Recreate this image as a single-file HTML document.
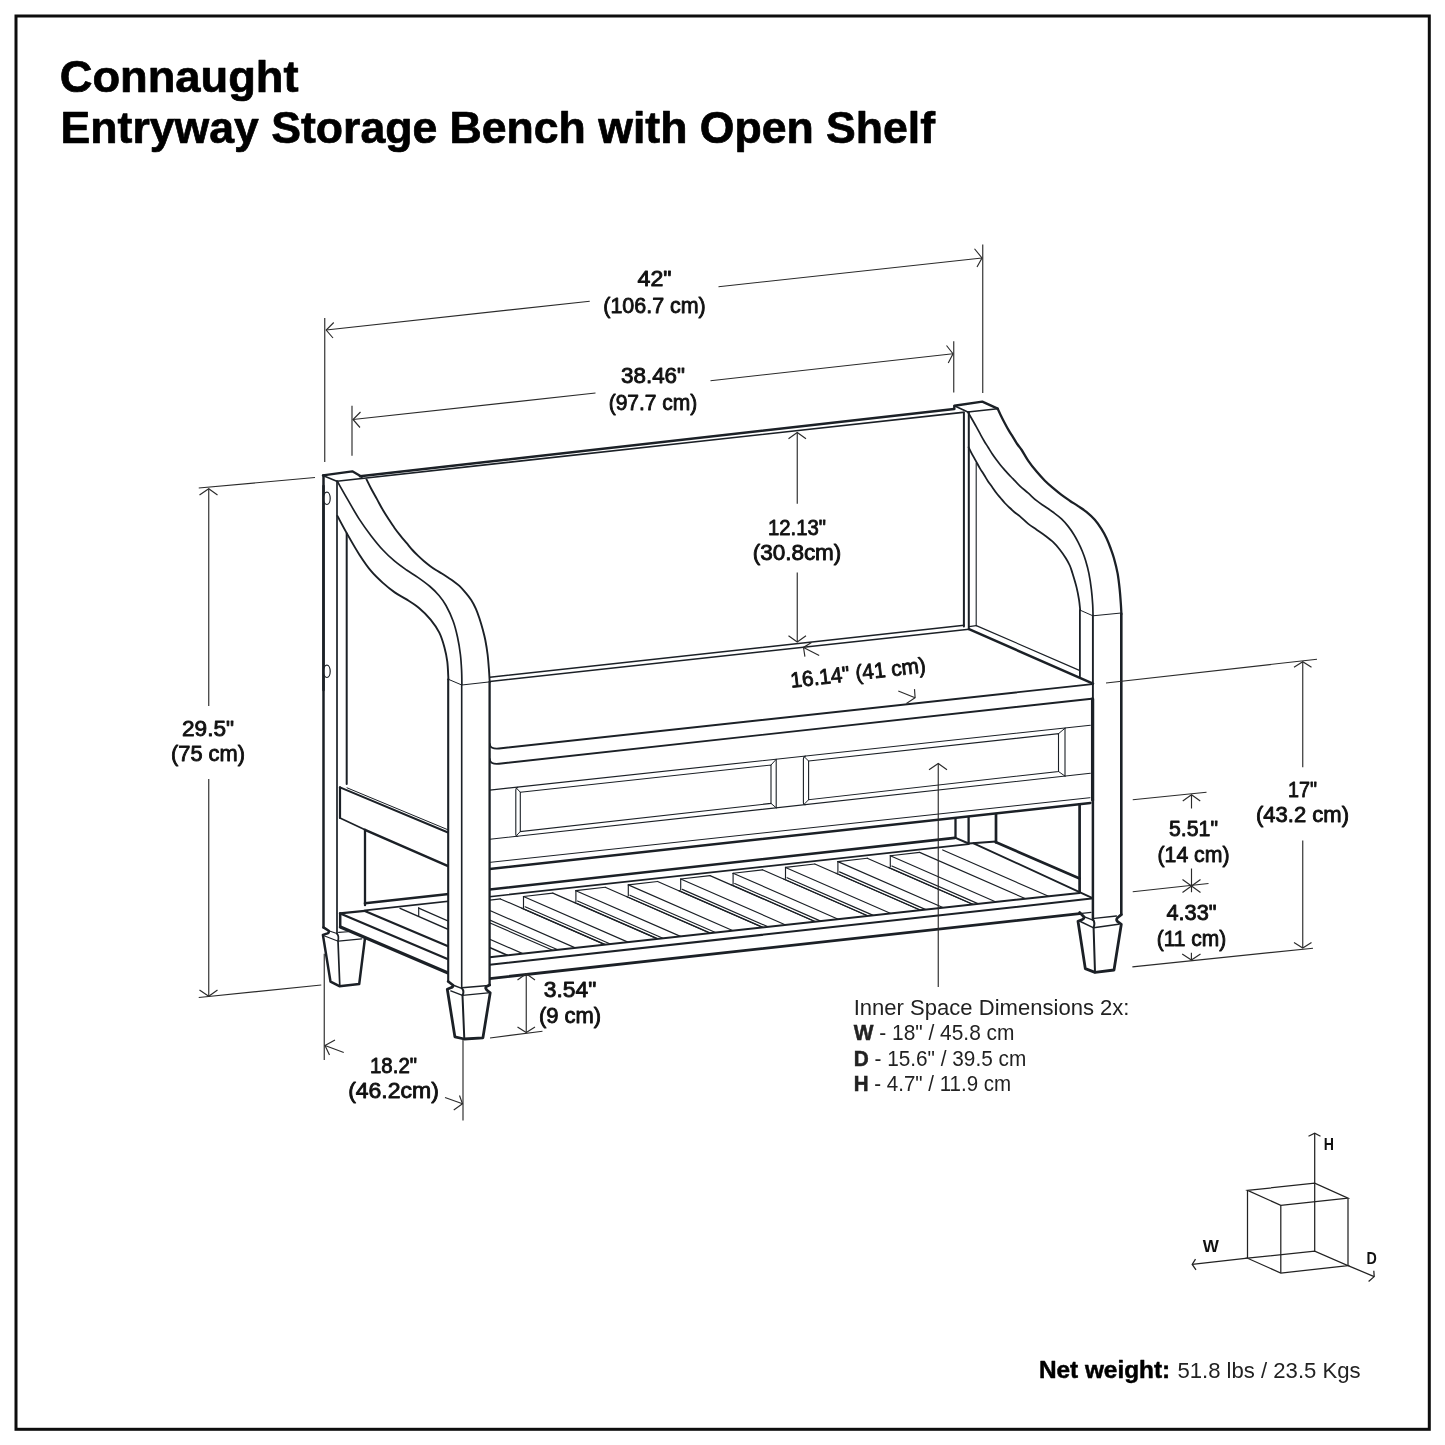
<!DOCTYPE html>
<html lang="en"><head><meta charset="utf-8"><title>Connaught Entryway Storage Bench with Open Shelf</title>
<style>
html,body{margin:0;padding:0;background:#fff;}
body{width:1445px;height:1445px;overflow:hidden;font-family:"Liberation Sans",sans-serif;}
svg{display:block;font-family:"Liberation Sans",sans-serif;will-change:transform;}
</style></head><body>
<svg width="1445" height="1445" viewBox="0 0 1445 1445">
<rect x="0" y="0" width="1445" height="1445" fill="#ffffff"/>
<rect x="16" y="16" width="1413.3" height="1413.3" fill="none" stroke="#0d0d0d" stroke-width="3"/>
<g id="bench">
<g id="slats">
<line x1="418.70" y1="907.63" x2="418.70" y2="916.43" stroke="#1b2026" stroke-width="1.15" stroke-linecap="round"/>
<line x1="418.70" y1="908.13" x2="522.74" y2="953.60" stroke="#1b2026" stroke-width="1.15" stroke-linecap="round"/>
<line x1="400.10" y1="908.40" x2="507.36" y2="955.27" stroke="#1b2026" stroke-width="1.5" stroke-linecap="round"/>
<line x1="471.10" y1="902.32" x2="471.10" y2="913.22" stroke="#1b2026" stroke-width="1.15" stroke-linecap="round"/>
<line x1="471.10" y1="902.32" x2="500.40" y2="898.92" stroke="#1b2026" stroke-width="1.15" stroke-linecap="round"/>
<line x1="471.10" y1="902.32" x2="575.32" y2="947.86" stroke="#1b2026" stroke-width="1.15" stroke-linecap="round"/>
<line x1="472.70" y1="912.62" x2="557.74" y2="949.78" stroke="#1b2026" stroke-width="1.15" stroke-linecap="round"/>
<line x1="469.30" y1="913.92" x2="552.64" y2="950.34" stroke="#1b2026" stroke-width="1.15" stroke-linecap="round"/>
<line x1="500.40" y1="898.92" x2="605.00" y2="944.63" stroke="#1b2026" stroke-width="1.15" stroke-linecap="round"/>
<line x1="523.50" y1="896.50" x2="523.50" y2="907.40" stroke="#1b2026" stroke-width="1.15" stroke-linecap="round"/>
<line x1="523.50" y1="896.50" x2="552.80" y2="893.10" stroke="#1b2026" stroke-width="1.15" stroke-linecap="round"/>
<line x1="523.50" y1="896.50" x2="627.91" y2="942.13" stroke="#1b2026" stroke-width="1.15" stroke-linecap="round"/>
<line x1="525.10" y1="906.80" x2="610.33" y2="944.04" stroke="#1b2026" stroke-width="1.15" stroke-linecap="round"/>
<line x1="521.70" y1="908.10" x2="605.23" y2="944.60" stroke="#1b2026" stroke-width="1.15" stroke-linecap="round"/>
<line x1="552.80" y1="893.10" x2="657.58" y2="938.89" stroke="#1b2026" stroke-width="1.15" stroke-linecap="round"/>
<line x1="575.90" y1="890.68" x2="575.90" y2="901.58" stroke="#1b2026" stroke-width="1.15" stroke-linecap="round"/>
<line x1="575.90" y1="890.68" x2="605.20" y2="887.28" stroke="#1b2026" stroke-width="1.15" stroke-linecap="round"/>
<line x1="575.90" y1="890.68" x2="680.50" y2="936.39" stroke="#1b2026" stroke-width="1.15" stroke-linecap="round"/>
<line x1="577.50" y1="900.98" x2="662.91" y2="938.31" stroke="#1b2026" stroke-width="1.15" stroke-linecap="round"/>
<line x1="574.10" y1="902.28" x2="657.81" y2="938.87" stroke="#1b2026" stroke-width="1.15" stroke-linecap="round"/>
<line x1="605.20" y1="887.28" x2="710.17" y2="933.16" stroke="#1b2026" stroke-width="1.15" stroke-linecap="round"/>
<line x1="628.30" y1="884.87" x2="628.30" y2="895.77" stroke="#1b2026" stroke-width="1.15" stroke-linecap="round"/>
<line x1="628.30" y1="884.87" x2="657.60" y2="881.47" stroke="#1b2026" stroke-width="1.15" stroke-linecap="round"/>
<line x1="628.30" y1="884.87" x2="733.08" y2="930.66" stroke="#1b2026" stroke-width="1.15" stroke-linecap="round"/>
<line x1="629.90" y1="895.17" x2="715.50" y2="932.57" stroke="#1b2026" stroke-width="1.15" stroke-linecap="round"/>
<line x1="626.50" y1="896.47" x2="710.40" y2="933.13" stroke="#1b2026" stroke-width="1.15" stroke-linecap="round"/>
<line x1="657.60" y1="881.47" x2="762.76" y2="927.42" stroke="#1b2026" stroke-width="1.15" stroke-linecap="round"/>
<line x1="680.70" y1="879.05" x2="680.70" y2="889.95" stroke="#1b2026" stroke-width="1.15" stroke-linecap="round"/>
<line x1="680.70" y1="879.05" x2="710.00" y2="875.65" stroke="#1b2026" stroke-width="1.15" stroke-linecap="round"/>
<line x1="680.70" y1="879.05" x2="785.67" y2="924.92" stroke="#1b2026" stroke-width="1.15" stroke-linecap="round"/>
<line x1="682.30" y1="889.35" x2="768.09" y2="926.84" stroke="#1b2026" stroke-width="1.15" stroke-linecap="round"/>
<line x1="678.90" y1="890.65" x2="762.98" y2="927.40" stroke="#1b2026" stroke-width="1.15" stroke-linecap="round"/>
<line x1="710.00" y1="875.65" x2="815.34" y2="921.69" stroke="#1b2026" stroke-width="1.15" stroke-linecap="round"/>
<line x1="733.10" y1="873.23" x2="733.10" y2="884.13" stroke="#1b2026" stroke-width="1.15" stroke-linecap="round"/>
<line x1="733.10" y1="873.23" x2="762.40" y2="869.83" stroke="#1b2026" stroke-width="1.15" stroke-linecap="round"/>
<line x1="733.10" y1="873.23" x2="838.25" y2="919.19" stroke="#1b2026" stroke-width="1.15" stroke-linecap="round"/>
<line x1="734.70" y1="883.53" x2="820.67" y2="921.10" stroke="#1b2026" stroke-width="1.15" stroke-linecap="round"/>
<line x1="731.30" y1="884.83" x2="815.57" y2="921.66" stroke="#1b2026" stroke-width="1.15" stroke-linecap="round"/>
<line x1="762.40" y1="869.83" x2="867.93" y2="915.95" stroke="#1b2026" stroke-width="1.15" stroke-linecap="round"/>
<line x1="785.50" y1="867.42" x2="785.50" y2="878.32" stroke="#1b2026" stroke-width="1.15" stroke-linecap="round"/>
<line x1="785.50" y1="867.42" x2="814.80" y2="864.02" stroke="#1b2026" stroke-width="1.15" stroke-linecap="round"/>
<line x1="785.50" y1="867.42" x2="890.84" y2="913.45" stroke="#1b2026" stroke-width="1.15" stroke-linecap="round"/>
<line x1="787.10" y1="877.72" x2="873.26" y2="915.37" stroke="#1b2026" stroke-width="1.15" stroke-linecap="round"/>
<line x1="783.70" y1="879.02" x2="868.16" y2="915.93" stroke="#1b2026" stroke-width="1.15" stroke-linecap="round"/>
<line x1="814.80" y1="864.02" x2="920.51" y2="910.22" stroke="#1b2026" stroke-width="1.15" stroke-linecap="round"/>
<line x1="837.90" y1="861.60" x2="837.90" y2="872.50" stroke="#1b2026" stroke-width="1.15" stroke-linecap="round"/>
<line x1="837.90" y1="861.60" x2="867.20" y2="858.20" stroke="#1b2026" stroke-width="1.15" stroke-linecap="round"/>
<line x1="837.90" y1="861.60" x2="943.43" y2="907.72" stroke="#1b2026" stroke-width="1.15" stroke-linecap="round"/>
<line x1="839.50" y1="871.90" x2="925.84" y2="909.63" stroke="#1b2026" stroke-width="1.15" stroke-linecap="round"/>
<line x1="836.10" y1="873.20" x2="920.74" y2="910.19" stroke="#1b2026" stroke-width="1.15" stroke-linecap="round"/>
<line x1="867.20" y1="858.20" x2="973.10" y2="904.48" stroke="#1b2026" stroke-width="1.15" stroke-linecap="round"/>
<line x1="890.30" y1="855.79" x2="890.30" y2="866.69" stroke="#1b2026" stroke-width="1.15" stroke-linecap="round"/>
<line x1="890.30" y1="855.79" x2="919.60" y2="852.39" stroke="#1b2026" stroke-width="1.15" stroke-linecap="round"/>
<line x1="890.30" y1="855.79" x2="996.01" y2="901.98" stroke="#1b2026" stroke-width="1.15" stroke-linecap="round"/>
<line x1="891.90" y1="866.09" x2="978.43" y2="903.90" stroke="#1b2026" stroke-width="1.15" stroke-linecap="round"/>
<line x1="888.50" y1="867.39" x2="973.33" y2="904.46" stroke="#1b2026" stroke-width="1.15" stroke-linecap="round"/>
<line x1="919.60" y1="852.39" x2="1025.69" y2="898.75" stroke="#1b2026" stroke-width="1.15" stroke-linecap="round"/>
<line x1="942.70" y1="849.97" x2="1048.60" y2="896.25" stroke="#1b2026" stroke-width="1.15" stroke-linecap="round"/>
</g>
<line x1="365.00" y1="903.30" x2="954.90" y2="837.90" stroke="#1b2026" stroke-width="2.6" stroke-linecap="round"/>
<line x1="365.20" y1="910.40" x2="968.60" y2="844.10" stroke="#1b2026" stroke-width="1.7" stroke-linecap="round"/>
<line x1="360.00" y1="476.30" x2="954.10" y2="409.10" stroke="#1b2026" stroke-width="2.5" stroke-linecap="round"/>
<line x1="336.80" y1="481.20" x2="962.80" y2="412.40" stroke="#1b2026" stroke-width="1.6" stroke-linecap="round"/>
<line x1="489.80" y1="677.30" x2="964.20" y2="625.30" stroke="#1b2026" stroke-width="1.5" stroke-linecap="round"/>
<line x1="489.80" y1="681.50" x2="969.00" y2="629.20" stroke="#1b2026" stroke-width="1.5" stroke-linecap="round"/>
<path d="M322.90 475.40 L352.30 471.30 L361.70 476.80" fill="none" stroke="#1b2026" stroke-width="2.3" stroke-linejoin="round" stroke-linecap="round"/>
<line x1="322.90" y1="475.40" x2="336.80" y2="481.20" stroke="#1b2026" stroke-width="1.6" stroke-linecap="round"/>
<line x1="323.50" y1="475.40" x2="323.50" y2="927.40" stroke="#1b2026" stroke-width="2.5" stroke-linecap="round"/>
<line x1="337.00" y1="481.20" x2="337.00" y2="933.60" stroke="#1b2026" stroke-width="1.7" stroke-linecap="round"/>
<line x1="346.70" y1="533.50" x2="346.70" y2="784.00" stroke="#1b2026" stroke-width="2.0" stroke-linecap="round"/>
<ellipse cx="326.9" cy="498.3" rx="3.3" ry="6.2" fill="#fff" stroke="#1b2026" stroke-width="1.2"/>
<ellipse cx="326.9" cy="671.3" rx="3.3" ry="6.2" fill="#fff" stroke="#1b2026" stroke-width="1.2"/>
<line x1="323.50" y1="486.00" x2="323.50" y2="690.00" stroke="#1b2026" stroke-width="2.5" stroke-linecap="round"/>
<path d="M337.40 481.50 C339.10 484.48 343.93 493.08 347.60 499.40 C351.27 505.72 355.47 513.32 359.40 519.40 C363.33 525.48 367.28 530.80 371.20 535.90 C375.12 541.00 378.98 545.78 382.90 550.00 C386.82 554.22 390.77 557.87 394.70 561.20 C398.63 564.53 402.58 567.27 406.50 570.00 C410.42 572.73 414.28 574.85 418.20 577.60 C422.12 580.35 426.53 583.52 430.00 586.50 C433.47 589.48 436.33 592.33 439.00 595.50 C441.67 598.67 443.65 601.25 446.00 605.50 C448.35 609.75 451.18 615.75 453.10 621.00 C455.02 626.25 456.28 631.42 457.50 637.00 C458.72 642.58 459.72 648.93 460.40 654.50 C461.08 660.07 461.35 665.32 461.60 670.40 C461.85 675.48 461.85 682.57 461.90 685.00" fill="none" stroke="#1b2026" stroke-width="1.7" stroke-linejoin="round" stroke-linecap="round"/>
<path d="M366.50 479.40 C367.28 480.97 369.43 485.47 371.20 488.80 C372.97 492.13 375.15 495.87 377.10 499.40 C379.05 502.93 380.95 506.67 382.90 510.00 C384.85 513.33 386.83 516.37 388.80 519.40 C390.77 522.43 392.73 525.45 394.70 528.20 C396.67 530.95 398.63 533.45 400.60 535.90 C402.57 538.35 404.53 540.55 406.50 542.90 C408.47 545.25 410.45 547.83 412.40 550.00 C414.35 552.17 416.25 554.03 418.20 555.90 C420.15 557.77 422.13 559.53 424.10 561.20 C426.07 562.87 428.03 564.43 430.00 565.90 C431.97 567.37 433.93 568.73 435.90 570.00 C437.87 571.27 439.85 572.28 441.80 573.50 C443.75 574.72 445.65 576.02 447.60 577.30 C449.55 578.58 451.53 579.77 453.50 581.20 C455.47 582.63 457.43 584.03 459.40 585.90 C461.37 587.77 463.33 590.05 465.30 592.40 C467.27 594.75 469.43 597.27 471.20 600.00 C472.97 602.73 474.53 605.77 475.90 608.80 C477.27 611.83 478.23 614.67 479.40 618.20 C480.57 621.73 481.92 626.37 482.90 630.00 C483.88 633.63 484.52 635.92 485.30 640.00 C486.08 644.08 486.98 649.43 487.60 654.50 C488.22 659.57 488.65 665.80 489.00 670.40 C489.35 675.00 489.58 680.15 489.70 682.10" fill="none" stroke="#1b2026" stroke-width="1.9" stroke-linejoin="round" stroke-linecap="round"/>
<path d="M337.40 515.90 C339.10 519.03 343.93 528.23 347.60 534.70 C351.27 541.17 355.47 548.62 359.40 554.70 C363.33 560.78 367.28 566.50 371.20 571.20 C375.12 575.90 378.98 579.37 382.90 582.90 C386.82 586.43 390.77 589.65 394.70 592.40 C398.63 595.15 402.45 596.80 406.50 599.40 C410.55 602.00 414.98 604.63 419.00 608.00 C423.02 611.37 427.22 615.48 430.60 619.60 C433.98 623.72 437.00 628.10 439.30 632.70 C441.60 637.30 443.07 642.37 444.40 647.20 C445.73 652.03 446.63 656.37 447.30 661.70 C447.97 667.03 448.22 676.28 448.40 679.20" fill="none" stroke="#1b2026" stroke-width="1.9" stroke-linejoin="round" stroke-linecap="round"/>
<line x1="340.00" y1="787.30" x2="340.00" y2="818.00" stroke="#1b2026" stroke-width="2.2" stroke-linecap="round"/>
<line x1="340.00" y1="787.30" x2="448.00" y2="832.50" stroke="#1b2026" stroke-width="2.0" stroke-linecap="round"/>
<line x1="347.00" y1="787.80" x2="448.00" y2="829.80" stroke="#1b2026" stroke-width="1.0" stroke-linecap="round"/>
<line x1="340.00" y1="818.00" x2="365.00" y2="829.80" stroke="#1b2026" stroke-width="1.6" stroke-linecap="round"/>
<line x1="365.00" y1="829.80" x2="448.70" y2="866.40" stroke="#1b2026" stroke-width="2.5" stroke-linecap="round"/>
<line x1="365.00" y1="829.80" x2="365.00" y2="905.20" stroke="#1b2026" stroke-width="2.3" stroke-linecap="round"/>
<path d="M339.90 913.40 L364.80 910.90 L448.10 946.60 L448.10 973.20 L340.40 927.10 Z" fill="#fff" stroke="none" stroke-width="0" stroke-linejoin="round" stroke-linecap="round"/>
<line x1="339.90" y1="913.40" x2="364.80" y2="910.90" stroke="#1b2026" stroke-width="2.2" stroke-linecap="round"/>
<line x1="340.20" y1="913.40" x2="340.20" y2="927.10" stroke="#1b2026" stroke-width="2.5" stroke-linecap="round"/>
<line x1="364.80" y1="910.90" x2="448.10" y2="946.20" stroke="#1b2026" stroke-width="2.2" stroke-linecap="round"/>
<line x1="340.20" y1="913.60" x2="448.10" y2="959.30" stroke="#1b2026" stroke-width="2.2" stroke-linecap="round"/>
<line x1="340.40" y1="927.10" x2="448.10" y2="972.90" stroke="#1b2026" stroke-width="3.3" stroke-linecap="round"/>
<path d="M323.5 927.4 L328.7 930.8 Q329.2 932.6 327.6 933.4 L322.9 934.9 L330.5 981.6 L339.4 986.2 L359.2 984.1 L364.9 938.9" fill="none" stroke="#1b2026" stroke-width="2.5" stroke-linejoin="round" stroke-linecap="round"/>
<path d="M337 933.6 Q339.2 936 338 940.8 L339.8 986.2" fill="none" stroke="#1b2026" stroke-width="1.7" stroke-linejoin="round" stroke-linecap="round"/>
<line x1="328.70" y1="930.80" x2="336.90" y2="933.40" stroke="#1b2026" stroke-width="1.1" stroke-linecap="round"/>
<line x1="323.40" y1="935.50" x2="337.60" y2="941.10" stroke="#1b2026" stroke-width="1.1" stroke-linecap="round"/>
<line x1="338.40" y1="941.10" x2="361.70" y2="938.90" stroke="#1b2026" stroke-width="1.1" stroke-linecap="round"/>
<line x1="338.60" y1="932.40" x2="348.00" y2="931.80" stroke="#1b2026" stroke-width="1.1" stroke-linecap="round"/>
<path d="M489.6 743.6 Q490 749.4 499 748.5 L1092.5 684.1" fill="none" stroke="#1b2026" stroke-width="1.9" stroke-linejoin="round" stroke-linecap="round"/>
<path d="M489.6 758.8 Q490 764.7 499 763.7 L1091.6 698.7" fill="none" stroke="#1b2026" stroke-width="1.9" stroke-linejoin="round" stroke-linecap="round"/>
<line x1="969.00" y1="629.20" x2="1093.00" y2="683.60" stroke="#1b2026" stroke-width="2.5" stroke-linecap="round"/>
<line x1="976.30" y1="625.60" x2="1079.40" y2="670.40" stroke="#1b2026" stroke-width="1.2" stroke-linecap="round"/>
<line x1="969.00" y1="626.60" x2="976.30" y2="625.60" stroke="#1b2026" stroke-width="1.2" stroke-linecap="round"/>
<line x1="489.80" y1="790.10" x2="1090.40" y2="725.20" stroke="#1b2026" stroke-width="1.1" stroke-linecap="round"/>
<line x1="489.80" y1="839.20" x2="1090.40" y2="773.30" stroke="#1b2026" stroke-width="1.1" stroke-linecap="round"/>
<path d="M517.8 787.2 Q515.8 787.6 515.8 790 L515.8 834 Q515.8 836.6 517.8 836.2" fill="none" stroke="#1b2026" stroke-width="1.1" stroke-linejoin="round" stroke-linecap="round"/>
<path d="M776.20 759.30 L776.20 807.80" fill="none" stroke="#1b2026" stroke-width="1.1" stroke-linejoin="round" stroke-linecap="round"/>
<path d="M520.30 792.20 L771.00 765.00 L771.00 803.40 L520.30 831.60 Z" fill="none" stroke="#1b2026" stroke-width="1.1" stroke-linejoin="miter" stroke-linecap="round"/>
<line x1="771.00" y1="765.00" x2="776.20" y2="759.30" stroke="#1b2026" stroke-width="1.0" stroke-linecap="round"/>
<line x1="771.00" y1="803.40" x2="776.20" y2="807.80" stroke="#1b2026" stroke-width="1.0" stroke-linecap="round"/>
<line x1="520.30" y1="792.20" x2="516.60" y2="788.30" stroke="#1b2026" stroke-width="1.0" stroke-linecap="round"/>
<line x1="520.30" y1="831.60" x2="516.60" y2="835.40" stroke="#1b2026" stroke-width="1.0" stroke-linecap="round"/>
<path d="M805.4 756.1 Q803.4 756.5 803.4 759 L803.4 802.4 Q803.4 805 805.4 804.6" fill="none" stroke="#1b2026" stroke-width="1.1" stroke-linejoin="round" stroke-linecap="round"/>
<path d="M1065.00 728.20 L1065.00 776.10" fill="none" stroke="#1b2026" stroke-width="1.1" stroke-linejoin="round" stroke-linecap="round"/>
<path d="M808.60 761.00 L1058.50 733.70 L1058.50 771.50 L808.60 799.70 Z" fill="none" stroke="#1b2026" stroke-width="1.1" stroke-linejoin="miter" stroke-linecap="round"/>
<line x1="1058.50" y1="733.70" x2="1065.00" y2="728.20" stroke="#1b2026" stroke-width="1.0" stroke-linecap="round"/>
<line x1="1058.50" y1="771.50" x2="1065.00" y2="776.10" stroke="#1b2026" stroke-width="1.0" stroke-linecap="round"/>
<line x1="808.60" y1="761.00" x2="804.40" y2="756.90" stroke="#1b2026" stroke-width="1.0" stroke-linecap="round"/>
<line x1="808.60" y1="799.70" x2="804.40" y2="804.00" stroke="#1b2026" stroke-width="1.0" stroke-linecap="round"/>
<line x1="489.50" y1="862.40" x2="1090.00" y2="797.70" stroke="#1b2026" stroke-width="1.0" stroke-linecap="round"/>
<line x1="489.50" y1="869.00" x2="1090.40" y2="803.00" stroke="#1b2026" stroke-width="2.5" stroke-linecap="round"/>
<line x1="955.50" y1="819.00" x2="955.50" y2="837.90" stroke="#1b2026" stroke-width="2.3" stroke-linecap="round"/>
<line x1="968.60" y1="817.50" x2="968.60" y2="843.50" stroke="#1b2026" stroke-width="2.3" stroke-linecap="round"/>
<line x1="996.00" y1="814.00" x2="996.00" y2="842.30" stroke="#1b2026" stroke-width="2.7" stroke-linecap="round"/>
<line x1="955.50" y1="837.90" x2="968.60" y2="843.50" stroke="#1b2026" stroke-width="2.0" stroke-linecap="round"/>
<line x1="968.60" y1="843.50" x2="996.00" y2="841.50" stroke="#1b2026" stroke-width="1.8" stroke-linecap="round"/>
<line x1="996.00" y1="842.30" x2="1079.60" y2="878.40" stroke="#1b2026" stroke-width="2.7" stroke-linecap="round"/>
<line x1="973.60" y1="843.30" x2="1092.00" y2="897.80" stroke="#1b2026" stroke-width="1.9" stroke-linecap="round"/>
<line x1="1079.60" y1="804.40" x2="1079.60" y2="892.00" stroke="#1b2026" stroke-width="2.7" stroke-linecap="round"/>
<path d="M489.70 957.20 L1074.70 893.40 L1091.50 898.60 L1091.50 912.40 L489.70 978.60 Z" fill="#fff" stroke="none" stroke-width="0" stroke-linejoin="round" stroke-linecap="round"/>
<line x1="489.70" y1="957.20" x2="1079.60" y2="892.90" stroke="#1b2026" stroke-width="2.0" stroke-linecap="round"/>
<line x1="489.70" y1="964.80" x2="1091.50" y2="898.60" stroke="#1b2026" stroke-width="2.0" stroke-linecap="round"/>
<line x1="489.70" y1="978.60" x2="1079.60" y2="913.60" stroke="#1b2026" stroke-width="2.9" stroke-linecap="round"/>
<line x1="1079.60" y1="913.60" x2="1091.00" y2="912.40" stroke="#1b2026" stroke-width="1.2" stroke-linecap="round"/>
<path d="M448.20 679.30 L461.80 685.00 L489.60 681.90 L489.60 985.00 L461.70 987.80 L448.20 981.50 Z" fill="#fff" stroke="none" stroke-width="0" stroke-linejoin="round" stroke-linecap="round"/>
<line x1="448.20" y1="679.30" x2="448.20" y2="981.50" stroke="#1b2026" stroke-width="2.1" stroke-linecap="round"/>
<line x1="461.70" y1="685.00" x2="461.70" y2="987.80" stroke="#1b2026" stroke-width="1.6" stroke-linecap="round"/>
<line x1="489.60" y1="682.00" x2="489.60" y2="985.00" stroke="#1b2026" stroke-width="2.3" stroke-linecap="round"/>
<path d="M448.40 679.30 L461.80 685.00 L489.60 681.90" fill="none" stroke="#1b2026" stroke-width="1.0" stroke-linejoin="round" stroke-linecap="round"/>
<path d="M448.2 981.5 L452.8 985 Q453.6 986.8 450.8 987.8 L447.3 989.3 L454.9 1036.9 L464.3 1039 L482.9 1037.9 L490.2 992.9 L487.6 990.7 Q484.6 988.2 486.4 986.6 L489.6 985" fill="none" stroke="#1b2026" stroke-width="2.8" stroke-linejoin="round" stroke-linecap="round"/>
<path d="M461.7 987.8 Q464.6 991 462.5 995.4 L464.3 1039" fill="none" stroke="#1b2026" stroke-width="2.0" stroke-linejoin="round" stroke-linecap="round"/>
<line x1="452.80" y1="985.00" x2="461.70" y2="988.40" stroke="#1b2026" stroke-width="1.4" stroke-linecap="round"/>
<line x1="461.80" y1="987.80" x2="485.60" y2="985.70" stroke="#1b2026" stroke-width="1.4" stroke-linecap="round"/>
<line x1="450.80" y1="990.90" x2="462.50" y2="995.40" stroke="#1b2026" stroke-width="1.4" stroke-linecap="round"/>
<line x1="462.50" y1="995.40" x2="488.10" y2="992.90" stroke="#1b2026" stroke-width="1.4" stroke-linecap="round"/>
<path d="M954.30 408.70 L954.30 405.80 L982.30 401.60 L997.70 408.70" fill="none" stroke="#1b2026" stroke-width="2.4" stroke-linejoin="round" stroke-linecap="round"/>
<path d="M954.30 405.80 L967.80 412.00 L997.70 408.70" fill="none" stroke="#1b2026" stroke-width="1.6" stroke-linejoin="round" stroke-linecap="round"/>
<line x1="963.90" y1="412.20" x2="963.90" y2="626.40" stroke="#1b2026" stroke-width="2.0" stroke-linecap="round"/>
<line x1="968.80" y1="412.20" x2="968.80" y2="629.20" stroke="#1b2026" stroke-width="2.0" stroke-linecap="round"/>
<line x1="976.20" y1="463.00" x2="976.20" y2="625.60" stroke="#1b2026" stroke-width="1.1" stroke-linecap="round"/>
<path d="M997.70 408.70 C998.18 409.73 999.42 412.48 1000.60 414.90 C1001.78 417.32 1003.42 420.57 1004.80 423.20 C1006.18 425.83 1007.52 428.35 1008.90 430.70 C1010.28 433.05 1011.72 435.08 1013.10 437.30 C1014.48 439.52 1015.77 441.88 1017.20 444.00 C1018.63 446.12 1019.85 447.20 1021.70 450.00 C1023.55 452.80 1025.82 457.20 1028.30 460.80 C1030.78 464.40 1033.83 468.28 1036.60 471.60 C1039.37 474.92 1042.13 477.93 1044.90 480.70 C1047.67 483.47 1050.43 485.83 1053.20 488.20 C1055.97 490.57 1058.73 492.82 1061.50 494.90 C1064.27 496.98 1067.03 498.83 1069.80 500.70 C1072.57 502.57 1075.33 504.23 1078.10 506.10 C1080.87 507.97 1083.62 509.62 1086.40 511.90 C1089.18 514.18 1092.30 516.97 1094.80 519.80 C1097.30 522.63 1099.47 525.87 1101.40 528.90 C1103.33 531.93 1104.88 534.82 1106.40 538.00 C1107.92 541.18 1109.25 544.67 1110.50 548.00 C1111.75 551.33 1112.72 553.77 1113.90 558.00 C1115.08 562.23 1116.63 568.13 1117.60 573.40 C1118.57 578.67 1119.15 584.40 1119.70 589.60 C1120.25 594.80 1120.62 600.55 1120.90 604.60 C1121.18 608.65 1121.32 612.35 1121.40 613.90" fill="none" stroke="#1b2026" stroke-width="2.3" stroke-linejoin="round" stroke-linecap="round"/>
<path d="M967.80 412.00 C968.42 413.03 970.18 415.92 971.50 418.20 C972.82 420.48 974.32 423.20 975.70 425.70 C977.08 428.20 978.42 430.70 979.80 433.20 C981.18 435.70 982.62 438.35 984.00 440.70 C985.38 443.05 986.72 445.08 988.10 447.30 C989.48 449.52 990.92 451.92 992.30 454.00 C993.68 456.08 995.02 457.93 996.40 459.80 C997.78 461.67 999.20 463.48 1000.60 465.20 C1002.00 466.92 1003.42 468.52 1004.80 470.10 C1006.18 471.68 1007.52 473.23 1008.90 474.70 C1010.28 476.17 1011.25 477.00 1013.10 478.90 C1014.95 480.80 1017.47 483.72 1020.00 486.10 C1022.53 488.48 1025.53 490.77 1028.30 493.20 C1031.07 495.63 1033.83 498.48 1036.60 500.70 C1039.37 502.92 1042.13 504.57 1044.90 506.50 C1047.67 508.43 1050.43 510.23 1053.20 512.30 C1055.97 514.37 1059.00 516.55 1061.50 518.90 C1064.00 521.25 1066.12 523.77 1068.20 526.40 C1070.28 529.03 1072.35 532.07 1074.00 534.70 C1075.65 537.33 1076.72 539.43 1078.10 542.20 C1079.48 544.97 1081.05 548.25 1082.30 551.30 C1083.55 554.35 1084.50 556.82 1085.60 560.50 C1086.70 564.18 1087.93 568.55 1088.90 573.40 C1089.87 578.25 1090.77 584.40 1091.40 589.60 C1092.03 594.80 1092.43 600.33 1092.70 604.60 C1092.97 608.87 1092.95 613.43 1093.00 615.20" fill="none" stroke="#1b2026" stroke-width="1.7" stroke-linejoin="round" stroke-linecap="round"/>
<path d="M968.60 447.30 C969.08 448.27 970.32 450.88 971.50 453.10 C972.68 455.32 974.32 458.10 975.70 460.60 C977.08 463.10 978.42 465.75 979.80 468.10 C981.18 470.45 982.62 472.48 984.00 474.70 C985.38 476.92 986.72 479.32 988.10 481.40 C989.48 483.48 990.92 485.27 992.30 487.20 C993.68 489.13 995.02 491.20 996.40 493.00 C997.78 494.80 999.20 496.33 1000.60 498.00 C1002.00 499.67 1003.42 501.48 1004.80 503.00 C1006.18 504.52 1007.28 505.57 1008.90 507.10 C1010.52 508.63 1012.65 510.65 1014.50 512.20 C1016.35 513.75 1017.70 514.45 1020.00 516.40 C1022.30 518.35 1025.53 521.68 1028.30 523.90 C1031.07 526.12 1033.83 527.77 1036.60 529.70 C1039.37 531.63 1042.13 533.42 1044.90 535.50 C1047.67 537.58 1050.70 539.83 1053.20 542.20 C1055.70 544.57 1057.82 547.07 1059.90 549.70 C1061.98 552.33 1064.05 555.37 1065.70 558.00 C1067.35 560.63 1068.68 563.00 1069.80 565.50 C1070.92 568.00 1071.28 569.40 1072.40 573.00 C1073.52 576.60 1075.40 582.67 1076.50 587.10 C1077.60 591.53 1078.38 595.75 1079.00 599.60 C1079.62 603.45 1080.00 608.43 1080.20 610.20" fill="none" stroke="#1b2026" stroke-width="1.8" stroke-linejoin="round" stroke-linecap="round"/>
<path d="M1080.20 610.20 L1092.90 615.80 L1121.30 613.00" fill="none" stroke="#1b2026" stroke-width="1.0" stroke-linejoin="round" stroke-linecap="round"/>
<line x1="1079.90" y1="610.20" x2="1079.90" y2="676.60" stroke="#1b2026" stroke-width="1.8" stroke-linecap="round"/>
<line x1="1092.90" y1="615.80" x2="1092.90" y2="699.00" stroke="#1b2026" stroke-width="1.9" stroke-linecap="round"/>
<line x1="1092.60" y1="699.00" x2="1092.60" y2="800.00" stroke="#1b2026" stroke-width="3.3" stroke-linecap="round"/>
<line x1="1092.90" y1="800.00" x2="1092.90" y2="919.40" stroke="#1b2026" stroke-width="2.5" stroke-linecap="round"/>
<line x1="1121.30" y1="613.90" x2="1121.30" y2="914.60" stroke="#1b2026" stroke-width="2.6" stroke-linecap="round"/>
<path d="M1121.3 914.6 L1118.4 917 Q1115.4 919.4 1117.4 921.4 L1121.3 924.3 L1114 970 L1095 972.4 L1085.3 968.6 L1078 921.2 L1081.8 919.8 Q1084.8 918.4 1083.9 916.7 L1079.6 912.6" fill="none" stroke="#1b2026" stroke-width="2.8" stroke-linejoin="round" stroke-linecap="round"/>
<path d="M1092.9 919.4 Q1095.4 922.4 1093.6 927.8 L1095 972.4" fill="none" stroke="#1b2026" stroke-width="2.0" stroke-linejoin="round" stroke-linecap="round"/>
<line x1="1083.90" y1="916.70" x2="1092.90" y2="920.10" stroke="#1b2026" stroke-width="1.4" stroke-linecap="round"/>
<line x1="1094.30" y1="918.40" x2="1116.40" y2="916.00" stroke="#1b2026" stroke-width="1.4" stroke-linecap="round"/>
<line x1="1080.40" y1="921.50" x2="1093.60" y2="927.80" stroke="#1b2026" stroke-width="1.4" stroke-linecap="round"/>
<line x1="1093.60" y1="927.80" x2="1118.50" y2="924.30" stroke="#1b2026" stroke-width="1.4" stroke-linecap="round"/>
</g>
<g id="title">
<text x="59.70" y="91.60" font-size="44" font-weight="bold" text-anchor="start" fill="#000" textLength="238.90" lengthAdjust="spacingAndGlyphs" stroke="#000" stroke-width="0.7" stroke-linejoin="round">Connaught</text>
<text x="60.60" y="143.30" font-size="44" font-weight="bold" text-anchor="start" fill="#000" textLength="874.50" lengthAdjust="spacingAndGlyphs" stroke="#000" stroke-width="0.7" stroke-linejoin="round">Entryway Storage Bench with Open Shelf</text>
</g>
<g id="notes">
<text x="853.70" y="1015.00" font-size="22.3" font-weight="normal" text-anchor="start" fill="#222" textLength="275.80" lengthAdjust="spacingAndGlyphs">Inner Space Dimensions 2x:</text>
<text x="853.7" y="1040.2" font-size="22.3" fill="#222" textLength="160.8" lengthAdjust="spacingAndGlyphs"><tspan font-weight="bold" stroke="#222" stroke-width="0.5">W</tspan> - 18" / 45.8 cm</text>
<text x="853.7" y="1065.7" font-size="22.3" fill="#222" textLength="172.5" lengthAdjust="spacingAndGlyphs"><tspan font-weight="bold" stroke="#222" stroke-width="0.5">D</tspan> - 15.6" / 39.5 cm</text>
<text x="853.7" y="1091.2" font-size="22.3" fill="#222" textLength="157.5" lengthAdjust="spacingAndGlyphs"><tspan font-weight="bold" stroke="#222" stroke-width="0.5">H</tspan> - 4.7" / 11.9 cm</text>
<text x="1038.90" y="1378.20" font-size="24" font-weight="bold" text-anchor="start" fill="#000" textLength="131.30" lengthAdjust="spacingAndGlyphs" stroke="#000" stroke-width="0.5" stroke-linejoin="round">Net weight:</text>
<text x="1177.40" y="1378.00" font-size="22.5" font-weight="normal" text-anchor="start" fill="#222" textLength="183.20" lengthAdjust="spacingAndGlyphs">51.8 lbs / 23.5 Kgs</text>
</g>
<g id="dims">
<line x1="324.75" y1="318.00" x2="324.75" y2="462.00" stroke="#2b2b2b" stroke-width="1.15" stroke-linecap="butt"/>
<line x1="982.75" y1="244.50" x2="982.75" y2="393.00" stroke="#2b2b2b" stroke-width="1.15" stroke-linecap="butt"/>
<line x1="326.20" y1="330.00" x2="589.75" y2="301.25" stroke="#2b2b2b" stroke-width="1.15" stroke-linecap="butt"/>
<line x1="718.50" y1="286.75" x2="982.00" y2="258.00" stroke="#2b2b2b" stroke-width="1.15" stroke-linecap="butt"/>
<polyline points="333.75,322.50 326.20,330.00 333.00,338.00" fill="none" stroke="#2b2b2b" stroke-width="1.15" stroke-linejoin="miter"/>
<polyline points="974.50,248.75 982.00,258.00 977.00,267.00" fill="none" stroke="#2b2b2b" stroke-width="1.15" stroke-linejoin="miter"/>
<text x="654.50" y="286.20" font-size="21.2" font-weight="normal" text-anchor="middle" fill="#111111" textLength="34.00" lengthAdjust="spacingAndGlyphs" stroke="#111111" stroke-width="0.85" stroke-linejoin="round">42"</text>
<text x="654.50" y="312.50" font-size="21.2" font-weight="normal" text-anchor="middle" fill="#111111" textLength="102.50" lengthAdjust="spacingAndGlyphs" stroke="#111111" stroke-width="0.85" stroke-linejoin="round">(106.7 cm)</text>
<line x1="352.00" y1="405.75" x2="352.00" y2="455.75" stroke="#2b2b2b" stroke-width="1.15" stroke-linecap="butt"/>
<line x1="953.75" y1="341.25" x2="953.75" y2="392.50" stroke="#2b2b2b" stroke-width="1.15" stroke-linecap="butt"/>
<line x1="353.00" y1="419.50" x2="595.50" y2="393.00" stroke="#2b2b2b" stroke-width="1.15" stroke-linecap="butt"/>
<line x1="710.50" y1="380.75" x2="953.00" y2="353.75" stroke="#2b2b2b" stroke-width="1.15" stroke-linecap="butt"/>
<polyline points="360.50,412.00 353.00,419.50 360.00,427.50" fill="none" stroke="#2b2b2b" stroke-width="1.15" stroke-linejoin="miter"/>
<polyline points="946.50,345.50 953.00,353.75 948.25,363.00" fill="none" stroke="#2b2b2b" stroke-width="1.15" stroke-linejoin="miter"/>
<text x="653.00" y="383.00" font-size="21.2" font-weight="normal" text-anchor="middle" fill="#111111" textLength="64.00" lengthAdjust="spacingAndGlyphs" stroke="#111111" stroke-width="0.85" stroke-linejoin="round">38.46"</text>
<text x="653.00" y="409.50" font-size="21.2" font-weight="normal" text-anchor="middle" fill="#111111" textLength="88.70" lengthAdjust="spacingAndGlyphs" stroke="#111111" stroke-width="0.85" stroke-linejoin="round">(97.7 cm)</text>
<line x1="198.75" y1="488.00" x2="315.00" y2="477.50" stroke="#2b2b2b" stroke-width="1.15" stroke-linecap="butt"/>
<line x1="198.75" y1="997.50" x2="321.25" y2="985.00" stroke="#2b2b2b" stroke-width="1.15" stroke-linecap="butt"/>
<line x1="208.75" y1="488.75" x2="208.75" y2="706.00" stroke="#2b2b2b" stroke-width="1.15" stroke-linecap="butt"/>
<line x1="208.75" y1="779.00" x2="208.75" y2="996.25" stroke="#2b2b2b" stroke-width="1.15" stroke-linecap="butt"/>
<polyline points="199.50,495.00 208.75,488.75 217.50,495.00" fill="none" stroke="#2b2b2b" stroke-width="1.15" stroke-linejoin="miter"/>
<polyline points="199.50,990.00 208.75,996.25 217.50,990.00" fill="none" stroke="#2b2b2b" stroke-width="1.15" stroke-linejoin="miter"/>
<text x="208.00" y="735.50" font-size="21.2" font-weight="normal" text-anchor="middle" fill="#111111" textLength="52.00" lengthAdjust="spacingAndGlyphs" stroke="#111111" stroke-width="0.85" stroke-linejoin="round">29.5"</text>
<text x="208.00" y="761.00" font-size="21.2" font-weight="normal" text-anchor="middle" fill="#111111" textLength="74.00" lengthAdjust="spacingAndGlyphs" stroke="#111111" stroke-width="0.85" stroke-linejoin="round">(75 cm)</text>
<line x1="797.25" y1="432.50" x2="797.25" y2="503.75" stroke="#2b2b2b" stroke-width="1.15" stroke-linecap="butt"/>
<line x1="797.25" y1="572.50" x2="797.25" y2="642.00" stroke="#2b2b2b" stroke-width="1.15" stroke-linecap="butt"/>
<polyline points="788.50,438.75 797.25,432.50 806.00,438.75" fill="none" stroke="#2b2b2b" stroke-width="1.15" stroke-linejoin="miter"/>
<polyline points="788.50,635.75 797.25,642.00 806.00,635.75" fill="none" stroke="#2b2b2b" stroke-width="1.15" stroke-linejoin="miter"/>
<text x="797.00" y="534.50" font-size="21.2" font-weight="normal" text-anchor="middle" fill="#111111" textLength="58.00" lengthAdjust="spacingAndGlyphs" stroke="#111111" stroke-width="0.85" stroke-linejoin="round">12.13"</text>
<text x="797.00" y="559.50" font-size="21.2" font-weight="normal" text-anchor="middle" fill="#111111" textLength="88.70" lengthAdjust="spacingAndGlyphs" stroke="#111111" stroke-width="0.85" stroke-linejoin="round">(30.8cm)</text>
<line x1="1106.00" y1="683.00" x2="1317.00" y2="659.25" stroke="#2b2b2b" stroke-width="1.15" stroke-linecap="butt"/>
<line x1="1302.75" y1="661.75" x2="1302.75" y2="767.25" stroke="#2b2b2b" stroke-width="1.15" stroke-linecap="butt"/>
<line x1="1302.75" y1="840.50" x2="1302.75" y2="948.00" stroke="#2b2b2b" stroke-width="1.15" stroke-linecap="butt"/>
<polyline points="1294.00,667.25 1302.75,661.75 1311.50,667.25" fill="none" stroke="#2b2b2b" stroke-width="1.15" stroke-linejoin="miter"/>
<polyline points="1294.00,942.50 1302.75,948.00 1311.50,942.50" fill="none" stroke="#2b2b2b" stroke-width="1.15" stroke-linejoin="miter"/>
<text x="1302.50" y="796.50" font-size="21.2" font-weight="normal" text-anchor="middle" fill="#111111" textLength="29.00" lengthAdjust="spacingAndGlyphs" stroke="#111111" stroke-width="0.85" stroke-linejoin="round">17"</text>
<text x="1302.50" y="822.25" font-size="21.2" font-weight="normal" text-anchor="middle" fill="#111111" textLength="93.00" lengthAdjust="spacingAndGlyphs" stroke="#111111" stroke-width="0.85" stroke-linejoin="round">(43.2 cm)</text>
<line x1="1132.75" y1="799.75" x2="1206.50" y2="792.25" stroke="#2b2b2b" stroke-width="1.15" stroke-linecap="butt"/>
<line x1="1132.75" y1="891.75" x2="1208.50" y2="883.50" stroke="#2b2b2b" stroke-width="1.15" stroke-linecap="butt"/>
<line x1="1191.50" y1="794.75" x2="1191.50" y2="808.50" stroke="#2b2b2b" stroke-width="1.15" stroke-linecap="butt"/>
<line x1="1191.50" y1="868.50" x2="1191.50" y2="892.25" stroke="#2b2b2b" stroke-width="1.15" stroke-linecap="butt"/>
<polyline points="1182.75,801.00 1191.50,794.75 1200.25,801.00" fill="none" stroke="#2b2b2b" stroke-width="1.15" stroke-linejoin="miter"/>
<polyline points="1182.50,879.50 1191.50,886.00 1200.50,879.50" fill="none" stroke="#2b2b2b" stroke-width="1.15" stroke-linejoin="miter"/>
<polyline points="1182.50,892.50 1191.50,886.00 1200.50,892.50" fill="none" stroke="#2b2b2b" stroke-width="1.15" stroke-linejoin="miter"/>
<text x="1193.50" y="836.00" font-size="21.2" font-weight="normal" text-anchor="middle" fill="#111111" textLength="49.00" lengthAdjust="spacingAndGlyphs" stroke="#111111" stroke-width="0.85" stroke-linejoin="round">5.51"</text>
<text x="1193.50" y="861.50" font-size="21.2" font-weight="normal" text-anchor="middle" fill="#111111" textLength="72.00" lengthAdjust="spacingAndGlyphs" stroke="#111111" stroke-width="0.85" stroke-linejoin="round">(14 cm)</text>
<text x="1191.50" y="919.75" font-size="21.2" font-weight="normal" text-anchor="middle" fill="#111111" textLength="50.00" lengthAdjust="spacingAndGlyphs" stroke="#111111" stroke-width="0.85" stroke-linejoin="round">4.33"</text>
<text x="1191.50" y="945.50" font-size="21.2" font-weight="normal" text-anchor="middle" fill="#111111" textLength="69.50" lengthAdjust="spacingAndGlyphs" stroke="#111111" stroke-width="0.85" stroke-linejoin="round">(11 cm)</text>
<line x1="1132.40" y1="966.90" x2="1313.00" y2="948.20" stroke="#2b2b2b" stroke-width="1.15" stroke-linecap="butt"/>
<line x1="1191.40" y1="952.80" x2="1191.40" y2="960.10" stroke="#2b2b2b" stroke-width="1.15" stroke-linecap="butt"/>
<polyline points="1182.20,954.00 1191.40,960.10 1200.50,954.00" fill="none" stroke="#2b2b2b" stroke-width="1.15" stroke-linejoin="miter"/>
<polyline points="804.90,656.70 803.50,647.40 811.50,642.50" fill="none" stroke="#2b2b2b" stroke-width="1.15" stroke-linejoin="miter"/>
<line x1="803.50" y1="647.40" x2="819.20" y2="655.50" stroke="#2b2b2b" stroke-width="1.15" stroke-linecap="butt"/>
<polyline points="914.50,689.10 915.10,697.80 906.40,703.40" fill="none" stroke="#2b2b2b" stroke-width="1.15" stroke-linejoin="miter"/>
<line x1="898.30" y1="691.00" x2="915.10" y2="697.80" stroke="#2b2b2b" stroke-width="1.15" stroke-linecap="butt"/>
<text x="791.20" y="687.80" font-size="21.6" font-weight="normal" text-anchor="start" fill="#111111" textLength="136.20" lengthAdjust="spacingAndGlyphs" stroke="#111111" stroke-width="0.85" stroke-linejoin="round" transform="rotate(-6.6 791.20 687.80)">16.14" (41 cm)</text>
<line x1="490.00" y1="1038.00" x2="542.50" y2="1031.25" stroke="#2b2b2b" stroke-width="1.15" stroke-linecap="butt"/>
<line x1="526.25" y1="973.75" x2="526.25" y2="1032.50" stroke="#2b2b2b" stroke-width="1.15" stroke-linecap="butt"/>
<polyline points="517.50,980.00 526.25,973.75 535.00,980.00" fill="none" stroke="#2b2b2b" stroke-width="1.15" stroke-linejoin="miter"/>
<polyline points="517.50,1027.00 526.25,1032.50 535.00,1027.00" fill="none" stroke="#2b2b2b" stroke-width="1.15" stroke-linejoin="miter"/>
<text x="570.00" y="997.00" font-size="21.2" font-weight="normal" text-anchor="middle" fill="#111111" textLength="52.50" lengthAdjust="spacingAndGlyphs" stroke="#111111" stroke-width="0.85" stroke-linejoin="round">3.54"</text>
<text x="570.00" y="1023.00" font-size="21.2" font-weight="normal" text-anchor="middle" fill="#111111" textLength="62.20" lengthAdjust="spacingAndGlyphs" stroke="#111111" stroke-width="0.85" stroke-linejoin="round">(9 cm)</text>
<line x1="324.25" y1="953.75" x2="324.25" y2="1060.00" stroke="#2b2b2b" stroke-width="1.15" stroke-linecap="butt"/>
<line x1="463.00" y1="1040.00" x2="463.00" y2="1120.50" stroke="#2b2b2b" stroke-width="1.15" stroke-linecap="butt"/>
<line x1="325.00" y1="1045.50" x2="343.75" y2="1052.50" stroke="#2b2b2b" stroke-width="1.15" stroke-linecap="butt"/>
<line x1="445.00" y1="1097.50" x2="462.50" y2="1103.75" stroke="#2b2b2b" stroke-width="1.15" stroke-linecap="butt"/>
<polyline points="335.00,1040.00 325.00,1045.50 329.50,1055.00" fill="none" stroke="#2b2b2b" stroke-width="1.15" stroke-linejoin="miter"/>
<polyline points="459.50,1095.50 462.50,1103.75 453.75,1110.00" fill="none" stroke="#2b2b2b" stroke-width="1.15" stroke-linejoin="miter"/>
<text x="393.50" y="1072.50" font-size="21.2" font-weight="normal" text-anchor="middle" fill="#111111" textLength="47.00" lengthAdjust="spacingAndGlyphs" stroke="#111111" stroke-width="0.85" stroke-linejoin="round">18.2"</text>
<text x="393.50" y="1098.00" font-size="21.2" font-weight="normal" text-anchor="middle" fill="#111111" textLength="90.70" lengthAdjust="spacingAndGlyphs" stroke="#111111" stroke-width="0.85" stroke-linejoin="round">(46.2cm)</text>
<line x1="938.25" y1="763.50" x2="938.25" y2="987.00" stroke="#2b2b2b" stroke-width="1.15" stroke-linecap="butt"/>
<polyline points="929.00,769.75 938.25,763.50 947.00,769.75" fill="none" stroke="#2b2b2b" stroke-width="1.15" stroke-linejoin="miter"/>
</g>
<g id="cube">
<path d="M1247.50 1190.40 L1314.70 1183.20 L1348.00 1198.20 L1280.80 1205.30 Z" fill="none" stroke="#222" stroke-width="1.25" stroke-linejoin="miter" stroke-linecap="round"/>
<path d="M1247.50 1258.20 L1314.70 1251.10 L1348.00 1265.60 L1280.80 1273.10 Z" fill="none" stroke="#222" stroke-width="1.25" stroke-linejoin="miter" stroke-linecap="round"/>
<line x1="1247.50" y1="1190.40" x2="1247.50" y2="1258.20" stroke="#222" stroke-width="1.25" stroke-linecap="butt"/>
<line x1="1314.70" y1="1183.20" x2="1314.70" y2="1251.10" stroke="#222" stroke-width="1.25" stroke-linecap="butt"/>
<line x1="1348.00" y1="1198.20" x2="1348.00" y2="1265.60" stroke="#222" stroke-width="1.25" stroke-linecap="butt"/>
<line x1="1280.80" y1="1205.30" x2="1280.80" y2="1273.10" stroke="#222" stroke-width="1.25" stroke-linecap="butt"/>
<line x1="1314.70" y1="1183.20" x2="1314.70" y2="1133.30" stroke="#222" stroke-width="1.25" stroke-linecap="butt"/>
<polyline points="1308.50,1136.20 1314.70,1133.30 1320.50,1136.20" fill="none" stroke="#222" stroke-width="1.25" stroke-linejoin="miter"/>
<line x1="1247.50" y1="1258.20" x2="1192.20" y2="1264.40" stroke="#222" stroke-width="1.25" stroke-linecap="butt"/>
<polyline points="1195.50,1259.20 1192.20,1264.40 1196.00,1269.90" fill="none" stroke="#222" stroke-width="1.25" stroke-linejoin="miter"/>
<line x1="1348.00" y1="1265.60" x2="1374.20" y2="1276.60" stroke="#222" stroke-width="1.25" stroke-linecap="butt"/>
<polyline points="1373.80,1270.80 1374.20,1276.60 1368.60,1281.50" fill="none" stroke="#222" stroke-width="1.25" stroke-linejoin="miter"/>
<text x="1323.80" y="1150.10" font-size="17.3" font-weight="bold" text-anchor="start" fill="#111" textLength="10.20" lengthAdjust="spacingAndGlyphs">H</text>
<text x="1202.70" y="1251.80" font-size="17.3" font-weight="bold" text-anchor="start" fill="#111" textLength="16.10" lengthAdjust="spacingAndGlyphs">W</text>
<text x="1366.40" y="1263.70" font-size="17.3" font-weight="bold" text-anchor="start" fill="#111" textLength="10.30" lengthAdjust="spacingAndGlyphs">D</text>
</g>
</svg>
</body></html>
